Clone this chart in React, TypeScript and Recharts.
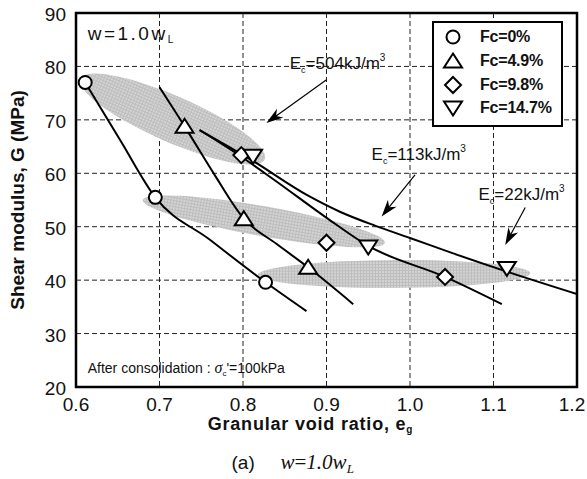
import React from 'react';
import {
  ComposedChart, Line, Scatter, XAxis, YAxis, CartesianGrid,
  ReferenceArea, ReferenceLine, ReferenceDot, Legend,
} from 'recharts';

// measured points (e_g, G) for each fines content
const fc0 = [{ e: 0.611, G: 77.0 }, { e: 0.695, G: 55.5 }, { e: 0.827, G: 39.6 }];
const fc49 = [{ e: 0.730, G: 68.8 }, { e: 0.801, G: 51.5 }, { e: 0.878, G: 42.4 }];
const fc98 = [{ e: 0.798, G: 63.4 }, { e: 0.900, G: 47.0 }, { e: 1.042, G: 40.6 }];
const fc147 = [{ e: 0.812, G: 63.2 }, { e: 0.950, G: 46.2 }, { e: 1.116, G: 42.2 }];

// hand drawn trend curves
const curveA = [
  { e: 0.611, G: 77.0 }, { e: 0.653, G: 66.2 }, { e: 0.695, G: 55.5 },
  { e: 0.760, G: 47.6 }, { e: 0.827, G: 39.6 }, { e: 0.876, G: 34.2 },
];
const curveB = [
  { e: 0.700, G: 76.1 }, { e: 0.734, G: 67.8 }, { e: 0.766, G: 59.7 }, { e: 0.801, G: 51.5 },
  { e: 0.840, G: 46.8 }, { e: 0.878, G: 42.4 }, { e: 0.932, G: 35.5 },
];
const curveC = [
  { e: 0.748, G: 68.1 }, { e: 0.798, G: 63.1 }, { e: 0.838, G: 58.7 }, { e: 0.898, G: 51.9 },
  { e: 0.950, G: 46.4 }, { e: 1.042, G: 40.6 }, { e: 1.110, G: 35.5 },
];
const curveD = [
  { e: 0.748, G: 68.1 }, { e: 0.810, G: 62.5 }, { e: 0.878, G: 55.8 }, { e: 0.916, G: 52.8 },
  { e: 0.958, G: 50.2 }, { e: 1.000, G: 47.9 }, { e: 1.050, G: 45.1 }, { e: 1.116, G: 41.6 },
  { e: 1.200, G: 37.4 },
];

// grey zones: ends of the long axis
const zone504 = [{ e: 0.605, G: 77.7 }, { e: 0.826, G: 62.6 }];
const zone113 = [{ e: 0.680, G: 55.0 }, { e: 0.970, G: 47.0 }];
const zone22 = [{ e: 0.818, G: 41.0 }, { e: 1.144, G: 41.3 }];

// energy labels and arrows (tail, head)
const arrow504 = [{ e: 0.900, G: 77.5 }, { e: 0.828, G: 69.4 }];
const arrow113 = [{ e: 1.006, G: 59.7 }, { e: 0.966, G: 51.9 }];
const arrow22 = [{ e: 1.138, G: 53.6 }, { e: 1.114, G: 46.6 }];
const energyLabels = [
  { e: 0.856, G: 80.6, value: '504' },
  { e: 0.954, G: 63.7, value: '113' },
  { e: 1.082, G: 56.2, value: '22' },
];

const xTicks = [0.6, 0.7, 0.8, 0.9, 1.0, 1.1, 1.2];
const yTicks = [20, 30, 40, 50, 60, 70, 80, 90];

const FONT = '"Liberation Sans", Arial, sans-serif';

const seriesNames = ['Fc=0%', 'Fc=4.9%', 'Fc=9.8%', 'Fc=14.7%'];
const legendKinds: Record<string, string> = {
  'Fc=0%': 'circle',
  'Fc=4.9%': 'up',
  'Fc=9.8%': 'diamond',
  'Fc=14.7%': 'down',
};

function Marker({ kind, cx, cy }: any) {
  const s = { fill: '#fff', stroke: '#000', strokeWidth: 2 };
  if (kind === 'circle') return <circle cx={cx} cy={cy} r={6.5} {...s} />;
  if (kind === 'up')
    return <polygon points={`${cx},${cy - 7.5} ${cx + 9},${cy + 6.5} ${cx - 9},${cy + 6.5}`} {...s} />;
  if (kind === 'down')
    return <polygon points={`${cx - 9},${cy - 6.5} ${cx + 9},${cy - 6.5} ${cx},${cy + 7.5}`} {...s} />;
  return <polygon points={`${cx},${cy - 8} ${cx + 8},${cy} ${cx},${cy + 8} ${cx - 8},${cy}`} {...s} />;
}

function Zone(props: any) {
  const { x, y, width, height, ry, rise } = props;
  if (x == null) return null;
  const cx = x + width / 2;
  const cy = y + height / 2;
  const rx = Math.hypot(width, height) / 2;
  const ang = (Math.atan2(height, width) * 180) / Math.PI * (rise ? -1 : 1);
  return (
    <ellipse cx={cx} cy={cy} rx={rx} ry={ry} fill="url(#zoneFill)"
      transform={`rotate(${ang} ${cx} ${cy})`} />
  );
}

function Arrow(props: any) {
  const { x1, y1, x2, y2 } = props;
  if (x1 == null) return null;
  const len = Math.hypot(x2 - x1, y2 - y1);
  const ux = (x2 - x1) / len;
  const uy = (y2 - y1) / len;
  const nx = -uy;
  const ny = ux;
  const L = 17, W = 5.5, N = 12;
  const pts = [
    [x2, y2],
    [x2 - ux * L + nx * W, y2 - uy * L + ny * W],
    [x2 - ux * N, y2 - uy * N],
    [x2 - ux * L - nx * W, y2 - uy * L - ny * W],
  ].map((p) => p.join(',')).join(' ');
  return (
    <g>
      <line x1={x1} y1={y1} x2={x2 - ux * N} y2={y2 - uy * N} stroke="#000" strokeWidth={1.2} />
      <polygon points={pts} fill="#000" />
    </g>
  );
}

function EnergyText({ cx, cy, value }: any) {
  return (
    <text x={cx} y={cy + 6} fontSize={17} fontFamily={FONT} fill="#111">
      E<tspan fontSize={9} dy={4}>c</tspan>
      <tspan dy={-4}>={value}kJ/m</tspan>
      <tspan fontSize={10} dy={-8}>3</tspan>
    </text>
  );
}

function WaterText({ cx, cy }: any) {
  return (
    <text x={cx} y={cy + 7} fontSize={19} fontFamily={FONT} letterSpacing={2.5} fill="#111">
      w=1.0w<tspan fontSize={10} dy={3} letterSpacing={0}>L</tspan>
    </text>
  );
}

function NoteText({ cx, cy }: any) {
  return (
    <text x={cx} y={cy + 5} fontSize={14} fontFamily={FONT} fill="#111">
      After consolidation :{' '}
      <tspan fontFamily='"Liberation Serif", serif' fontStyle="italic" fontSize={16}>σ</tspan>
      <tspan fontSize={8} dy={3}>c</tspan>
      <tspan dy={-3}>'=100kPa</tspan>
    </text>
  );
}

function YTick({ x, y, payload }: any) {
  return (
    <text x={x - 10} y={y + 8} textAnchor="end" fontSize={19} fontFamily={FONT} fill="#111">
      {payload.value}
    </text>
  );
}

function XTick({ x, y, payload }: any) {
  // the last label sits a little inside so it stays on the page
  const tx = Math.min(x, 572);
  return (
    <text x={tx} y={y + 24} textAnchor="middle" fontSize={19} fontFamily={FONT} fill="#111">
      {Number(payload.value).toFixed(1)}
    </text>
  );
}

function XTitle({ viewBox }: any) {
  const vb = viewBox || { x: 76, y: 387, width: 501 };
  const mid = vb.x + vb.width / 2;
  return (
    <g>
      <text x={mid - 16} y={vb.y + 43} textAnchor="middle" fontSize={18} fontWeight="bold"
        fontFamily={FONT} letterSpacing={0.8} fill="#111">
        Granular void ratio, e<tspan fontSize={10} dy={3}>g</tspan>
      </text>
      <text x={mid - 95} y={vb.y + 82} fontSize={19} fontFamily={FONT} fill="#111">(a)</text>
      <text x={mid - 46} y={vb.y + 82} fontSize={21} fontFamily='"Liberation Serif", serif'
        fontStyle="italic" fill="#111">
        w<tspan fontStyle="normal">=</tspan>1.0w<tspan fontSize={13} dy={4}>L</tspan>
      </text>
    </g>
  );
}

function YTitle({ viewBox }: any) {
  const vb = viewBox || { x: 16, y: 13, height: 374 };
  const cy = vb.y + vb.height / 2;
  return (
    <text x={0} y={0} transform={`translate(24 ${cy}) rotate(-90)`} textAnchor="middle"
      fontSize={19} fontWeight="bold" fontFamily={FONT} fill="#111">
      Shear modulus, G (MPa)
    </text>
  );
}

function LegendBox(props: any) {
  const items = (props.payload || [])
    .filter((p: any) => legendKinds[p.value])
    .sort((a: any, b: any) => seriesNames.indexOf(a.value) - seriesNames.indexOf(b.value));
  return (
    <div style={{
      position: 'relative', width: 131, height: 106, border: '2px solid #000',
      boxSizing: 'border-box', background: '#fff',
    }}>
      {items.map((it: any, i: number) => (
        <div key={it.value} style={{
          position: 'absolute', left: 0, top: 1.7 + i * 23.9, height: 24,
          display: 'flex', alignItems: 'center',
        }}>
          <svg width={46} height={24} style={{ display: 'block' }}>
            <Marker kind={legendKinds[it.value]} cx={19} cy={12} />
          </svg>
          <span style={{ fontFamily: FONT, fontWeight: 'bold', fontSize: 16, color: '#111', letterSpacing: -0.2 }}>
            {it.value}
          </span>
        </div>
      ))}
    </div>
  );
}

const zones = [
  { pts: zone504, ry: 23, rise: false },
  { pts: zone113, ry: 15, rise: false },
  { pts: zone22, ry: 14, rise: true },
];

const curves = [curveA, curveB, curveC, curveD];
const arrows = [arrow504, arrow113, arrow22];

const series = [
  { name: seriesNames[0], data: fc0 },
  { name: seriesNames[1], data: fc49 },
  { name: seriesNames[2], data: fc98 },
  { name: seriesNames[3], data: fc147 },
];

export default function App() {
  return (
    <div style={{ position: 'absolute', left: 0, top: 0, width: 587, height: 479, background: '#fff' }}>
      <ComposedChart width={587} height={479} margin={{ top: 13, right: 10, bottom: 52, left: 16 }}>
        <defs>
          <pattern id="zoneFill" width="3" height="3" patternUnits="userSpaceOnUse">
            <rect width="3" height="3" fill="#d4d4d4" />
            <rect width="3" height="1" fill="#bdbdbd" />
            <rect width="1" height="3" fill="#bdbdbd" />
          </pattern>
        </defs>
        <CartesianGrid stroke="#222" strokeDasharray="5 3" strokeWidth={1} />
        <XAxis
          dataKey="e"
          type="number"
          domain={[0.6, 1.2]}
          ticks={xTicks}
          allowDataOverflow
          height={40}
          tickLine={false}
          axisLine={false}
          tickSize={0}
          tickMargin={0}
          tick={<XTick />}
          label={<XTitle />}
        />
        <YAxis
          type="number"
          domain={[20, 90]}
          ticks={yTicks}
          allowDataOverflow
          width={60}
          tickLine={false}
          axisLine={false}
          tickSize={0}
          tickMargin={0}
          tick={<YTick />}
          label={<YTitle />}
        />
        {zones.map((z, i) => (
          <ReferenceArea
            key={`zone${i}`}
            x1={z.pts[0].e}
            x2={z.pts[1].e}
            y1={z.pts[0].G}
            y2={z.pts[1].G}
            ifOverflow="visible"
            shape={(p: any) => <Zone {...p} ry={z.ry} rise={z.rise} />}
          />
        ))}
        {curves.map((c, i) => (
          <Line
            key={`curve${i}`}
            data={c}
            dataKey="G"
            type="monotone"
            stroke="#000"
            strokeWidth={2}
            dot={false}
            activeDot={false}
            legendType="none"
            isAnimationActive={false}
          />
        ))}
        {arrows.map((a, i) => (
          <ReferenceLine
            key={`arrow${i}`}
            segment={[{ x: a[0].e, y: a[0].G }, { x: a[1].e, y: a[1].G }]}
            ifOverflow="visible"
            shape={(p: any) => <Arrow {...p} />}
          />
        ))}
        {energyLabels.map((l) => (
          <ReferenceDot
            key={`lab${l.value}`}
            x={l.e}
            y={l.G}
            r={0}
            ifOverflow="visible"
            shape={(p: any) => <EnergyText cx={p.cx} cy={p.cy} value={l.value} />}
          />
        ))}
        <ReferenceDot x={0.614} y={86.3} r={0} ifOverflow="visible"
          shape={(p: any) => <WaterText cx={p.cx} cy={p.cy} />} />
        <ReferenceDot x={0.614} y={23.6} r={0} ifOverflow="visible"
          shape={(p: any) => <NoteText cx={p.cx} cy={p.cy} />} />
        {series.map((s) => (
          <Scatter
            key={s.name}
            name={s.name}
            data={s.data}
            dataKey="G"
            isAnimationActive={false}
            shape={(p: any) => <Marker kind={legendKinds[s.name]} cx={p.cx} cy={p.cy} />}
          />
        ))}
        <ReferenceArea x1={0.6} x2={1.2} y1={20} y2={90} fill="none" fillOpacity={0}
          stroke="#000" strokeWidth={2.5} ifOverflow="visible" />
        <Legend
          layout="vertical"
          align="center"
          verticalAlign="middle"
          content={<LegendBox />}
          wrapperStyle={{ left: 432, top: 21, width: 131, height: 106 }}
        />
      </ComposedChart>
    </div>
  );
}
